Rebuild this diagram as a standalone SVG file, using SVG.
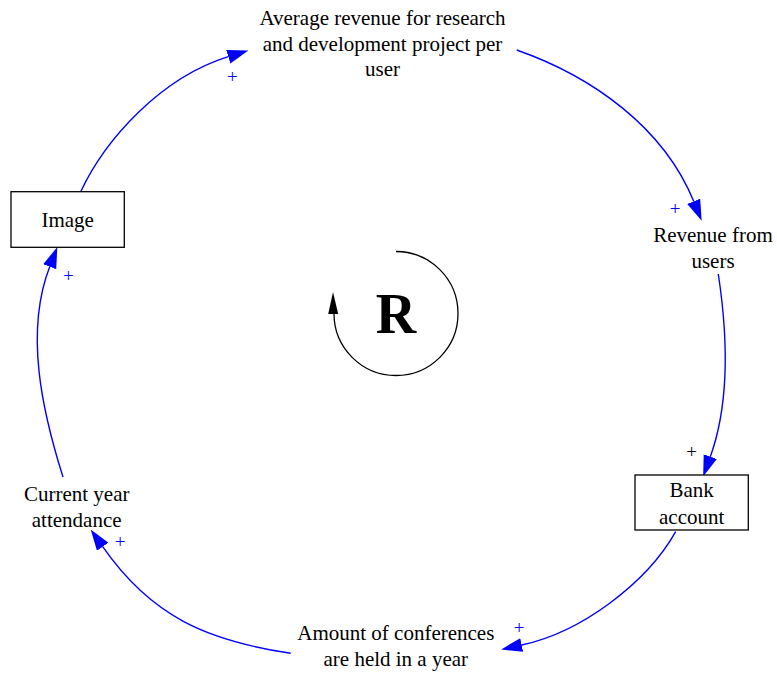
<svg xmlns="http://www.w3.org/2000/svg" width="777" height="675" viewBox="0 0 777 675" font-family="'Liberation Serif', 'Times New Roman', serif">
  <style>
    text { font-family: "Liberation Serif", "Times New Roman", serif; fill: #000; }
    .lbl { font-size: 21px; text-anchor: middle; }
    .box { fill: #fff; stroke: #000; stroke-width: 1.3; }
    .edge { fill: none; stroke: #0000ff; stroke-width: 1.4; marker-end: url(#arrow); }
    .pol { font-size: 19px; text-anchor: middle; fill: #0000ff; }
    .pol.k { fill: #000; }
    .loop { fill: none; stroke: #000; stroke-width: 1.3; }
  </style>
  <defs>
    <marker id="arrow" markerUnits="userSpaceOnUse" markerWidth="22" markerHeight="15" refX="0" refY="7" orient="auto">
      <path d="M0,0 L21,7 L0,14 Z" fill="#0000ff"/>
    </marker>
  </defs>
  <rect width="777" height="675" fill="#fff"/>

  <!-- causal links -->
  <g id="connectors">
    <path class="edge" d="M80.7,191.7 C105,140 160,78 228.3,56.7"/>
    <path class="edge" d="M516.7,50 C591.9,76.4 663.3,126.9 693.7,201.3"/>
    <path class="edge" d="M718.3,274 C727.3,333.4 730.7,400.3 710.3,456.7"/>
    <path class="edge" d="M675.7,531.7 C646.3,583.9 580.5,632.4 521.7,645"/>
    <path class="edge" d="M290.7,653.3 C206.5,640.6 151.2,616.4 102.7,546.7"/>
    <path class="edge" d="M63,477 C42,410.5 24.5,331.8 49.7,266.7"/>
    <text class="pol" x="232.3" y="82.5">+</text>
    <text class="pol" x="675" y="215">+</text>
    <text class="pol k" x="691.7" y="457.5">+</text>
    <text class="pol" x="519" y="634">+</text>
    <text class="pol" x="120" y="548">+</text>
    <text class="pol" x="68.3" y="281.5">+</text>
  </g>

  <g id="avg-revenue">
    <text class="lbl" x="382.5" y="25">Average revenue for research</text>
    <text class="lbl" x="382.5" y="50.5">and development project per</text>
    <text class="lbl" x="382.5" y="76">user</text>
  </g>

  <g id="revenue-users">
    <text class="lbl" x="713" y="242.3">Revenue from</text>
    <text class="lbl" x="713" y="268.3">users</text>
  </g>

  <g id="bank-account">
    <rect class="box" x="635" y="475" width="113.3" height="55"/>
    <text class="lbl" x="691.7" y="497">Bank</text>
    <text class="lbl" x="691.7" y="523.5">account</text>
  </g>

  <g id="conferences">
    <text class="lbl" x="395.8" y="640">Amount of conferences</text>
    <text class="lbl" x="395.8" y="666">are held in a year</text>
  </g>

  <g id="attendance">
    <text class="lbl" x="76.7" y="501">Current year</text>
    <text class="lbl" x="76.7" y="526.5">attendance</text>
  </g>

  <g id="image">
    <rect class="box" x="11" y="191.7" width="113.3" height="55.6"/>
    <text class="lbl" x="67.7" y="226.7">Image</text>
  </g>

  <!-- reinforcing loop marker -->
  <g id="loop-R">
    <path class="loop" d="M396,251.5 A62,62 0 1 1 334,313.5"/>
    <path d="M333,292 L328.2,314 L338.2,314 Z" fill="#000"/>
    <text x="396" y="333" font-size="56" font-weight="bold" text-anchor="middle">R</text>
  </g>
</svg>
